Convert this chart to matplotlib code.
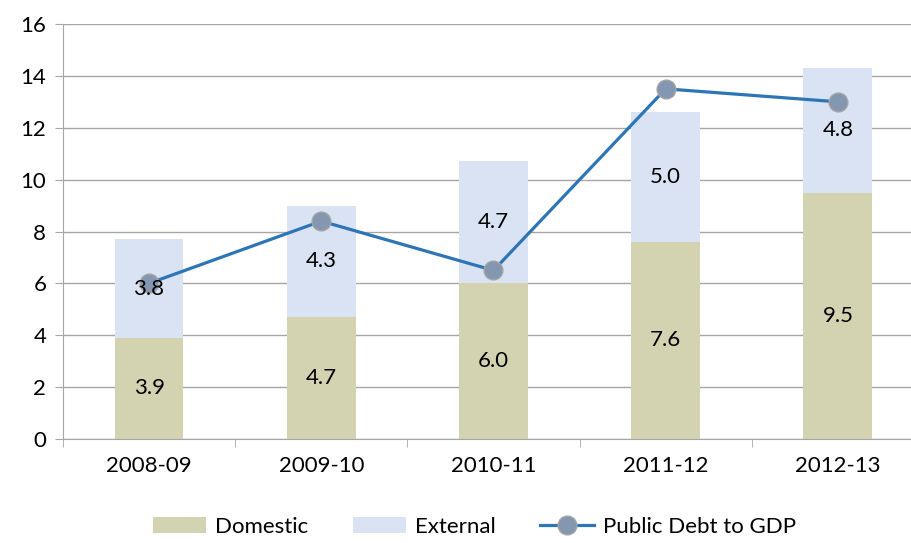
import matplotlib.pyplot as plt
from matplotlib.ticker import FixedLocator

plt.rcParams['font.family'] = ['Lato', 'DejaVu Sans']

years    = ["2008-09", "2009-10", "2010-11", "2011-12", "2012-13"]
domestic = [3.9, 4.7, 6.0, 7.6, 9.5]
external = [3.8, 4.3, 4.7, 5.0, 4.8]
debt_gdp = [6.0, 8.4, 6.5, 13.5, 13.0]

C_DOM  = "#D3D3B2"
C_EXT  = "#DAE3F3"
C_LINE = "#2E75B6"
C_MARK = "#8497B0"
C_GRID = "#A6A6A6"
FS = 16

fig = plt.figure(figsize=(9.12, 5.43), dpi=100)
ax = fig.add_axes([0.069, 0.1915, 0.931, 0.7643])

x = list(range(len(years)))
b1 = ax.bar(x, domestic, width=0.4, color=C_DOM, label="Domestic", zorder=2)
b2 = ax.bar(x, external, width=0.4, bottom=domestic, color=C_EXT, label="External", zorder=2)
ln, = ax.plot(x, debt_gdp, color=C_LINE, lw=2.3, marker="o", ms=13.5,
              mfc=C_MARK, mec="#A5A5A5", mew=1, label="Public Debt to GDP", zorder=4)

for i in x:
    ax.text(i, domestic[i] / 2, f"{domestic[i]:.1f}", ha="center", va="center",
            fontsize=FS, zorder=5)
    ax.text(i, domestic[i] + external[i] / 2, f"{external[i]:.1f}", ha="center",
            va="center", fontsize=FS, zorder=5)

ax.set_ylim(0, 16)
ax.set_yticks(range(0, 17, 2))
ax.set_xlim(-0.5, 4.43)
ax.set_xticks(x)
ax.set_xticklabels(years)
ax.xaxis.set_minor_locator(FixedLocator([-0.5, 0.5, 1.5, 2.5, 3.5]))
ax.tick_params(axis="x", which="major", length=0, pad=12, labelsize=FS)
ax.tick_params(axis="x", which="minor", length=6, color=C_GRID)
ax.tick_params(axis="y", length=6, color=C_GRID, labelsize=FS, pad=6)
ax.grid(axis="y", color=C_GRID, lw=1, zorder=0)
ax.set_axisbelow(True)

for s in ("top", "right"):
    ax.spines[s].set_visible(False)
for s in ("left", "bottom"):
    ax.spines[s].set_color(C_GRID)

fig.legend([b1, b2, ln], ["Domestic", "External", "Public Debt to GDP"],
           loc="lower center", bbox_to_anchor=(0.52, -0.025), ncol=3, frameon=False,
           fontsize=FS, handlelength=2.4, handletextpad=0.4, columnspacing=2.0)

fig.savefig("out.png", dpi=100)
